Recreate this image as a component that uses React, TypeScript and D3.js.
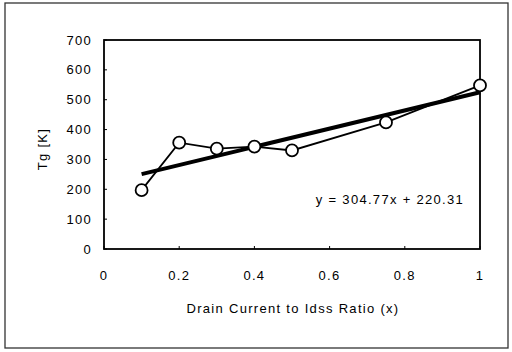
import React from "react";
import * as d3 from "d3";

const xValues = [0.1, 0.2, 0.3, 0.4, 0.5, 0.75, 1.0];
const tgValues = [197, 356, 336, 343, 330, 424, 548];
const slope = 304.77;
const intercept = 220.31;
const xTicks = [0, 0.2, 0.4, 0.6, 0.8, 1];
const yTicks = [0, 100, 200, 300, 400, 500, 600, 700];
const xTickLabels = ["0", "0.2", "0.4", "0.6", "0.8", "1"];
const equationLabel = "y = 304.77x + 220.31";

export default function App() {
  const W = 512, H = 352;
  const left = 104, right = 480, top = 40, bottom = 249;
  const x = d3.scaleLinear().domain([0, 1]).range([left, right]);
  const y = d3.scaleLinear().domain([0, 700]).range([bottom, top]);
  const pts = xValues.map((v, i) => [v, tgValues[i]] as [number, number]);
  const line = d3.line<[number, number]>().x(d => x(d[0])).y(d => y(d[1]));
  const trend: [number, number][] = [
    [0.1, slope * 0.1 + intercept],
    [1.0, slope * 1.0 + intercept],
  ];
  const font = "'Liberation Sans', Arial, sans-serif";
  const fs = 13;
  const ls = 1.3;
  return (
    <svg width={W} height={H} style={{ position: "absolute", left: 0, top: 0 }} fontFamily={font}>
      <rect x={0} y={0} width={W} height={H} fill="white" />
      <rect x={5} y={3} width={503} height={345} fill="none" stroke="#333" strokeWidth={1.3} />
      <rect x={left} y={top} width={right - left} height={bottom - top} fill="none" stroke="#000" strokeWidth={1.8} />
      {yTicks.map(t => (
        <g key={"y" + t}>
          <line x1={left} x2={left + 3} y1={y(t)} y2={y(t)} stroke="#000" strokeWidth={1} />
          <text x={92} y={y(t)} textAnchor="end" dominantBaseline="central" fontSize={fs} letterSpacing={ls}>{t}</text>
        </g>
      ))}
      {xTicks.map((t, i) => (
        <g key={"x" + t}>
          <line x1={x(t)} x2={x(t)} y1={bottom} y2={bottom - 3} stroke="#000" strokeWidth={1} />
          <text x={x(t)} y={275} textAnchor="middle" dominantBaseline="central" fontSize={fs} letterSpacing={ls}>{xTickLabels[i]}</text>
        </g>
      ))}
      <text x={(left + right) / 2 + 1} y={308} textAnchor="middle" dominantBaseline="central" fontSize={fs} letterSpacing={ls}>Drain Current to Idss Ratio (x)</text>
      <text transform={`translate(42,149) rotate(-90)`} textAnchor="middle" dominantBaseline="central" fontSize={fs} letterSpacing={ls}>Tg [K]</text>
      <path d={line(pts) || ""} fill="none" stroke="#000" strokeWidth={1.8} />
      <path d={line(trend) || ""} fill="none" stroke="#000" strokeWidth={4} />
      {pts.map((d, i) => (
        <circle key={i} cx={x(d[0])} cy={y(d[1])} r={6} fill="white" stroke="#000" strokeWidth={1.8} />
      ))}
      <text x={464} y={199} textAnchor="end" dominantBaseline="central" fontSize={fs} letterSpacing={ls}>{equationLabel}</text>
    </svg>
  );
}
